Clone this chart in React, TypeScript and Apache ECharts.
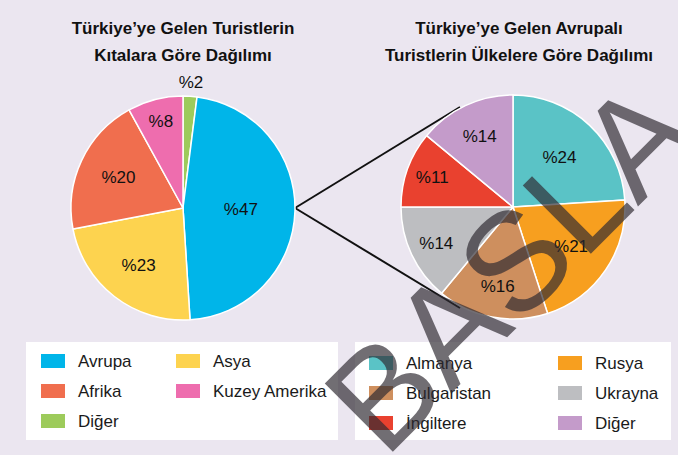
import React, { useEffect, useRef } from "react";
import * as echarts from "echarts";

const leftTitle = "Türkiye’ye Gelen Turistlerin\nKıtalara Göre Dağılımı";
const rightTitle = "Türkiye’ye Gelen Avrupalı\nTuristlerin Ülkelere Göre Dağılımı";

const leftCategories = ["Diğer", "Avrupa", "Asya", "Afrika", "Kuzey Amerika"];
const leftValues = [2, 47, 23, 20, 8];
const leftColors = ["#9DCB5B", "#00B5E9", "#FDD34F", "#F06E4E", "#EE6DAE"];
// label distance from centre as a fraction of the radius
const leftLabelRadius = [1.1, 0.49, 0.62, 0.61, 0.77];

const rightCategories = ["Almanya", "Rusya", "Bulgaristan", "Ukrayna", "İngiltere", "Diğer"];
const rightValues = [24, 21, 16, 14, 11, 14];
const rightColors = ["#5AC3C6", "#F79F1F", "#CE8F5E", "#BDBEC1", "#E9412F", "#C49BCA"];
const rightLabelRadius = [0.58, 0.6, 0.7, 0.73, 0.74, 0.67];

const leftLegendCols = [["Avrupa", "Afrika", "Diğer"], ["Asya", "Kuzey Amerika"]];
const rightLegendCols = [["Almanya", "Bulgaristan", "İngiltere"], ["Rusya", "Ukrayna", "Diğer"]];

const SANS = "'Liberation Sans', Arial, sans-serif";
const R = 112;

// offsets that move each inside label from r/2 to the wanted radius
function labelShifts(vals: number[], fr: number[]) {
  const total = vals.reduce((a, b) => a + b, 0);
  let acc = 0;
  return vals.map((v, i) => {
    const mid = ((acc + v / 2) / total) * Math.PI * 2;
    acc += v;
    const s = (fr[i] - 0.5) * R;
    return { dx: s * Math.sin(mid), dy: -s * Math.cos(mid) };
  });
}

function buildData(cats: string[], vals: number[], colors: string[]) {
  return cats.map((name, i) => ({ name, value: vals[i], itemStyle: { color: colors[i] } }));
}

function legendCol(names: string[], cats: string[], colors: string[], left: number, top: number) {
  return {
    orient: "vertical",
    left,
    top,
    padding: 0,
    icon: "rect",
    itemWidth: 26,
    itemHeight: 16,
    itemGap: 12,
    selectedMode: false,
    textStyle: { fontSize: 17, lineHeight: 17, fontFamily: SANS, color: "#1a1a1a", padding: [0, 0, 0, 7] },
    data: names.map((n) => ({ name: n, itemStyle: { color: colors[cats.indexOf(n)] } })),
  };
}

export default function App() {
  const ref = useRef<HTMLDivElement>(null);
  useEffect(() => {
    if (!ref.current) return;
    const chart = echarts.init(ref.current, null, { renderer: "svg" });
    const leftShift = labelShifts(leftValues, leftLabelRadius);
    const rightShift = labelShifts(rightValues, rightLabelRadius);
    const pieCommon = {
      type: "pie",
      radius: [0, R],
      startAngle: 90,
      clockwise: true,
      silent: true,
      avoidLabelOverlap: false,
      itemStyle: { borderColor: "#ffffff", borderWidth: 1.5 },
      label: {
        show: true,
        position: "inside",
        formatter: "%{c}",
        fontSize: 17,
        fontFamily: SANS,
        color: "#111",
      },
      labelLine: { show: false },
      emphasis: { disabled: true },
    };
    chart.setOption({
      animation: false,
      backgroundColor: "#EBE6F0",
      title: [
        {
          text: leftTitle,
          left: 183,
          top: 15,
          padding: 0,
          textAlign: "center",
          textStyle: { fontSize: 17, fontWeight: "bold", fontFamily: SANS, color: "#111", lineHeight: 27 },
        },
        {
          text: rightTitle,
          left: 519,
          top: 15,
          padding: 0,
          textAlign: "center",
          textStyle: { fontSize: 17, fontWeight: "bold", fontFamily: SANS, color: "#111", lineHeight: 27 },
        },
      ],
      legend: [
        legendCol(leftLegendCols[0], leftCategories, leftColors, 39, 352),
        legendCol(leftLegendCols[1], leftCategories, leftColors, 174, 352),
        legendCol(rightLegendCols[0], rightCategories, rightColors, 367, 354),
        legendCol(rightLegendCols[1], rightCategories, rightColors, 556, 354),
      ],
      graphic: [
        { type: "rect", z: 0, silent: true, shape: { x: 26, y: 342, width: 312, height: 98 }, style: { fill: "#ffffff" } },
        { type: "rect", z: 0, silent: true, shape: { x: 355, y: 342, width: 316, height: 98 }, style: { fill: "#ffffff" } },
        { type: "line", z: 1, silent: true, shape: { x1: 295, y1: 208, x2: 460, y2: 107 }, style: { stroke: "#111", lineWidth: 2 } },
        { type: "line", z: 1, silent: true, shape: { x1: 295, y1: 208, x2: 460, y2: 308 }, style: { stroke: "#111", lineWidth: 2 } },
        {
          type: "text",
          z: 100,
          silent: true,
          x: 510,
          y: 266,
          rotation: (45 * Math.PI) / 180,
          style: {
            text: "BASLA",
            fontSize: 140,
            fontFamily: SANS,
            fontWeight: "normal",
            fill: "rgba(45,42,48,0.68)",
            align: "center",
            verticalAlign: "middle",
          },
        },
      ],
      series: [
        {
          ...pieCommon,
          name: "Kıtalar",
          center: [183, 208],
          data: buildData(leftCategories, leftValues, leftColors),
          labelLayout: (p: any) => ({ dx: leftShift[p.dataIndex].dx, dy: leftShift[p.dataIndex].dy }),
        },
        {
          ...pieCommon,
          name: "Avrupa Ülkeleri",
          center: [513, 207],
          data: buildData(rightCategories, rightValues, rightColors),
          labelLayout: (p: any) => ({ dx: rightShift[p.dataIndex].dx, dy: rightShift[p.dataIndex].dy }),
        },
      ],
    });
    return () => chart.dispose();
  }, []);
  return <div ref={ref} style={{ width: 678, height: 455, position: "absolute", left: 0, top: 0 }} />;
}
